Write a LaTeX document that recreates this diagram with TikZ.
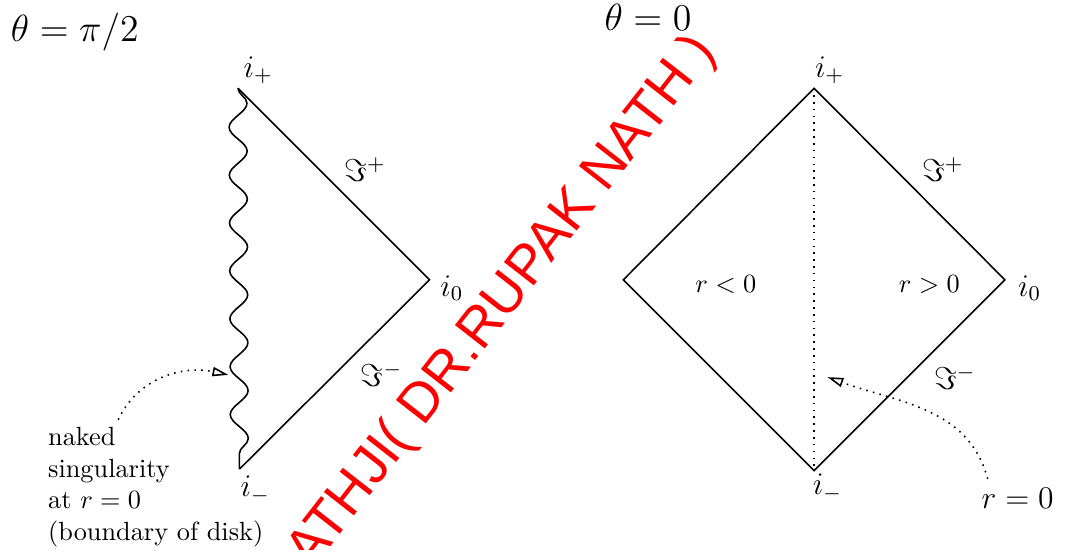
\documentclass[tikz,border=0pt]{standalone}
\usepackage{fontspec}
\newfontfamily\markfont{Liberation Sans}
\usetikzlibrary{decorations.pathmorphing, arrows.meta, positioning}
\tikzset{
  wall/.style={line width=0.6pt},
  wavy/.style={
    line width=0.6pt, decorate,
    decoration={snake, segment length=0.64cm, amplitude=0.12cm}
  },
  pointer/.style={
    dotted, line width=0.6pt,
    -{Triangle[open, length=6pt, width=3.5pt]}
  },
  vlabel/.style={font=\large},
  anglabel/.style={font=\Large}
}

\begin{document}
\begin{tikzpicture}
  \useasboundingbox (0,0) rectangle (14.26,7.35);

  % -- left diagram: naked singularity --
  \coordinate (Ltop)   at (3.18,6.17);
  \coordinate (Lright) at (5.74,3.61);
  \coordinate (Lbot)   at (3.20,1.08);
  \draw[wall] (Ltop) -- (Lright) -- (Lbot);
  \draw[wavy] (Ltop) -- (Lbot);

  \node[anglabel] (thhalf) at (1.00,6.92) {$\theta=\pi/2$};
  \node[vlabel] (Lip)  at (3.45,6.41) {$i_+$};
  \node[vlabel] (Lscp) at (4.88,5.08) {$\Im^+$};
  \node[vlabel] (Li0)  at (6.04,3.50) {$i_0$};
  \node[vlabel] (Lscm) at (5.10,2.34) {$\Im^-$};
  \node[vlabel] (Lim)  at (3.41,0.80) {$i_-$};
  \node[align=left, anchor=west] (naked) at (0.52,0.84)
    {naked\\singularity\\at $r=0$\\(boundary of disk)};

  \coordinate (Lfoot) at (1.58,1.74);
  \coordinate (Ltip)  at (3.05,2.34);
  \draw[pointer] (Lfoot) to[out=65, in=168] (Ltip);

  % -- right diagram: theta = 0 --
  \coordinate (Rtop)   at (10.88,6.17);
  \coordinate (Rright) at (13.43,3.61);
  \coordinate (Rbot)   at (10.88,1.06);
  \coordinate (Rleft)  at (8.33,3.61);
  \draw[wall] (Rtop) -- (Rright) -- (Rbot) -- (Rleft) -- cycle;
  \draw[dotted, line width=0.6pt] (Rtop) -- (Rbot);

  \node[anglabel] (thzero) at (8.66,7.12) {$\theta=0$};
  \node[vlabel] (Rip)  at (11.09,6.41) {$i_+$};
  \node[vlabel] (Rscp) at (12.60,5.08) {$\Im^+$};
  \node (rneg) at (9.70,3.55) {$r<0$};
  \node (rpos) at (12.42,3.55) {$r>0$};
  \node[vlabel] (Ri0)  at (13.76,3.50) {$i_0$};
  \node[vlabel] (Rscm) at (12.76,2.30) {$\Im^-$};
  \node[vlabel] (Rim)  at (11.06,0.83) {$i_-$};
  \node[vlabel] (rzero) at (13.60,0.69) {$r=0$};

  \coordinate (Rtip) at (11.06,2.31);
  \draw[pointer] ([xshift=-0.40cm]rzero.north) to[out=105, in=-20] (Rtip);

  % -- watermark --
  \node[text=red, rotate=52, font=\markfont\fontsize{21}{24}\selectfont]
    (mark) at (6.72,3.30) {ATHJI( DR.RUPAK NATH )};

\end{tikzpicture}
\end{document}
